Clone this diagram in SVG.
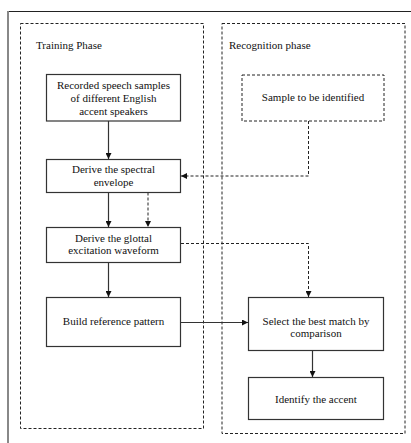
<svg xmlns="http://www.w3.org/2000/svg" width="411" height="443" viewBox="0 0 411 443">
<style>
text{font-family:"Liberation Serif","Times New Roman",serif;font-size:11px;fill:#111;text-anchor:middle}
.lbl{text-anchor:start}
.box{fill:#fff;stroke:#333;stroke-width:1.2}
.dbox{fill:none;stroke:#222;stroke-width:1;stroke-dasharray:3,2}
.ln{fill:none;stroke:#333;stroke-width:1.2}
.dl{fill:none;stroke:#222;stroke-width:1;stroke-dasharray:3,2}
</style>
<defs>
<marker id="ah" viewBox="0 0 6 6" refX="6" refY="3" markerWidth="6" markerHeight="6" markerUnits="userSpaceOnUse" orient="auto"><path d="M0,0L6,3L0,6z" fill="#111"/></marker>
</defs>
<rect width="411" height="443" fill="#fff"/>
<g id="frame">
<line x1="8" y1="11.5" x2="411" y2="11.5" stroke="#222" stroke-width="1"/>
<line x1="8" y1="11" x2="8" y2="443" stroke="#888" stroke-width="2"/>
</g>
<g id="training">
<rect class="dbox" x="20.5" y="23.5" width="183" height="405"/>
<text class="lbl" x="36" y="49">Training Phase</text>
</g>
<g id="recognition">
<rect class="dbox" x="222" y="23.5" width="183" height="410"/>
<text class="lbl" x="229" y="49">Recognition phase</text>
</g>
<g id="connectors">
<line class="ln" x1="108.5" y1="121" x2="108.5" y2="159" marker-end="url(#ah)"/>
<line class="ln" x1="108.5" y1="192.5" x2="108.5" y2="227" marker-end="url(#ah)"/>
<line class="ln" x1="108.5" y1="263" x2="108.5" y2="297" marker-end="url(#ah)"/>
<polyline class="dl" points="308.5,121 308.5,176 181,176" marker-end="url(#ah)"/>
<line class="dl" x1="148" y1="192.5" x2="148" y2="227" marker-end="url(#ah)"/>
<polyline class="dl" points="181,243.5 308.5,243.5 308.5,297" marker-end="url(#ah)"/>
<line class="ln" x1="180.5" y1="322.5" x2="248" y2="322.5" marker-end="url(#ah)"/>
<line class="ln" x1="312.5" y1="351" x2="312.5" y2="377" marker-end="url(#ah)"/>
</g>
<g id="n1">
<rect class="box" x="46.5" y="74.5" width="134" height="46.5"/>
<text x="113.5" y="89">Recorded speech samples</text>
<text x="113.5" y="102">of different English</text>
<text x="113.5" y="115">accent speakers</text>
</g>
<g id="n2">
<rect class="dbox" x="242" y="75" width="142" height="46"/>
<text x="313" y="101">Sample to be identified</text>
</g>
<g id="n3">
<rect class="box" x="46.5" y="159.5" width="134" height="33"/>
<text x="113.5" y="173">Derive the spectral</text>
<text x="113.5" y="186">envelope</text>
</g>
<g id="n4">
<rect class="box" x="46.5" y="227.5" width="134" height="35"/>
<text x="113.5" y="241.5">Derive the glottal</text>
<text x="113.5" y="254">excitation waveform</text>
</g>
<g id="n5">
<rect class="box" x="46.5" y="297.5" width="134" height="49"/>
<text x="113.5" y="325">Build reference pattern</text>
</g>
<g id="n6">
<rect class="box" x="248.5" y="297.5" width="135" height="53"/>
<text x="316" y="325">Select the best match by</text>
<text x="316" y="337">comparison</text>
</g>
<g id="n7">
<rect class="box" x="248.5" y="377.5" width="135" height="42"/>
<text x="316" y="403">Identify the accent</text>
</g>
</svg>
